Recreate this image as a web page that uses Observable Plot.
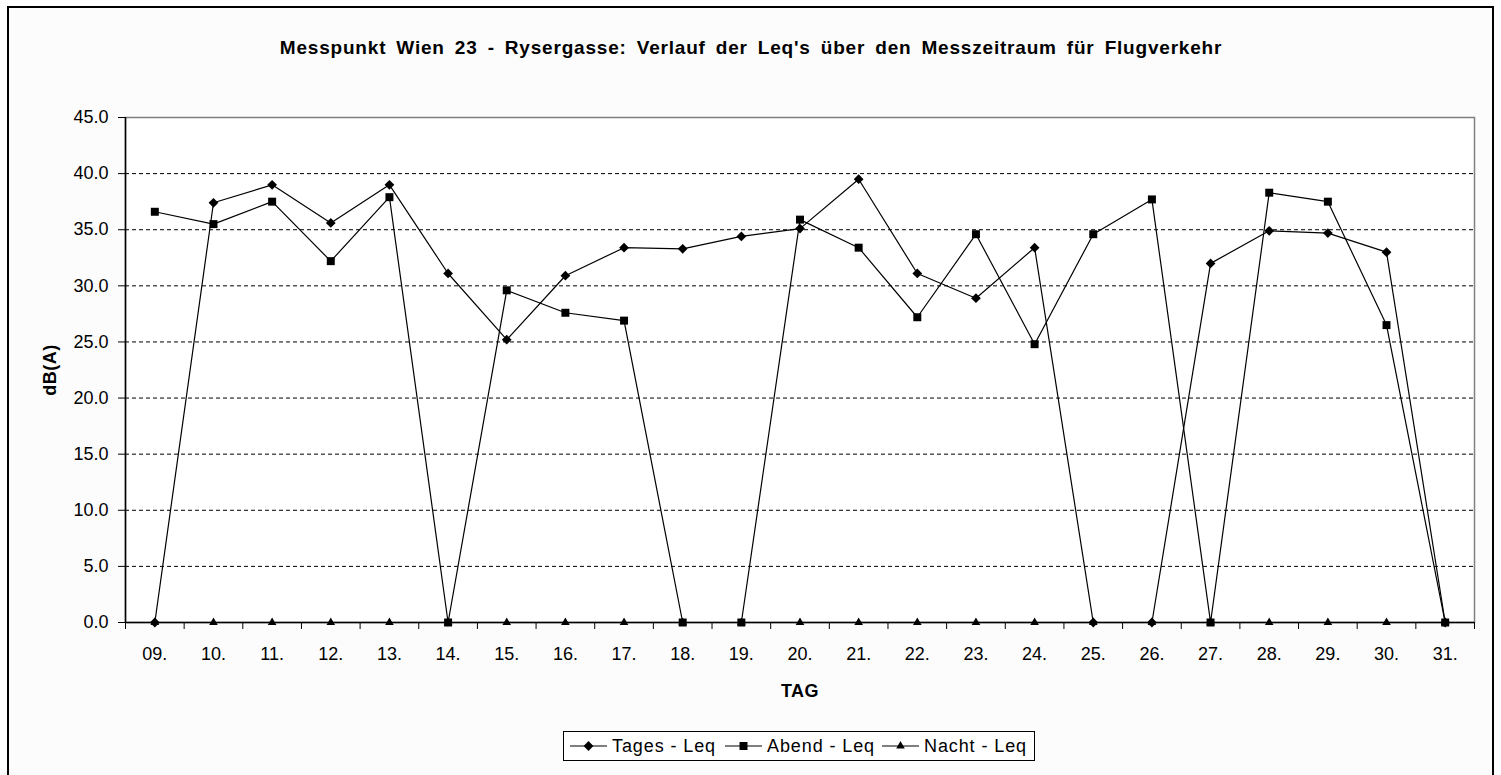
<!DOCTYPE html>
<html>
<head>
<meta charset="utf-8">
<script src="https://cdn.jsdelivr.net/npm/d3@7"></script>
<script src="https://cdn.jsdelivr.net/npm/@observablehq/plot@0.6"></script>
<style>
  body { margin: 0; background: #fff; font-family: Arial, "Liberation Sans", sans-serif; }
  #chart { position: relative; width: 1501px; height: 775px; overflow: hidden; background: #fff; }
  #outer { position: absolute; left: 7px; top: 6px; width: 1483px; height: 790px; border: 2px solid #000; background: #fcfcfc; }
  #title { position: absolute; left: 8px; top: 37px; width: 1486px; text-align: center; font-weight: bold; font-size: 19px; letter-spacing: 0.8px; word-spacing: 4px; color: #000; white-space: nowrap; }
  #plot { position: absolute; left: 0; top: 0; }
  #xlabel { position: absolute; left: 700px; width: 200px; top: 681px; text-align: center; font-weight: bold; font-size: 18px; letter-spacing: 0.5px; }
  #ylabel { position: absolute; left: 50px; top: 370px; transform: translate(-50%, -50%) rotate(-90deg); font-weight: bold; font-size: 18px; letter-spacing: 0.5px; white-space: nowrap; }
  #legend { position: absolute; left: 563px; top: 731px; width: 470px; height: 28px; border: 1px solid #000; background: #fff; font-size: 18px; letter-spacing: 0.9px; }
  .item { position: absolute; top: 0; height: 28px; display: flex; align-items: center; white-space: nowrap; }
  .item svg { margin-right: 5px; }
</style>
</head>
<body>
<div id="chart">
  <div id="outer"></div>
  <div id="title">Messpunkt Wien 23 - Rysergasse: Verlauf der Leq's über den Messzeitraum für Flugverkehr</div>
  <div id="plot"></div>
  <div id="xlabel">TAG</div>
  <div id="ylabel">dB(A)</div>
  <div id="legend"></div>
</div>
<script>
// ---- data ----
const categories = ["09.","10.","11.","12.","13.","14.","15.","16.","17.","18.","19.","20.","21.","22.","23.","24.","25.","26.","27.","28.","29.","30.","31."];
const tages = [0, 37.4, 39.0, 35.6, 39.0, 31.1, 25.2, 30.9, 33.4, 33.3, 34.4, 35.1, 39.5, 31.1, 28.9, 33.4, 0, 0, 32.0, 34.9, 34.7, 33.0, 0];
const abend = [36.6, 35.5, 37.5, 32.2, 37.9, 0, 29.6, 27.6, 26.9, 0, 0, 35.9, 33.4, 27.2, 34.6, 24.8, 34.6, 37.7, 0, 38.3, 37.5, 26.5, 0];
const nacht = [0, 0, 0, 0, 0, 0, 0, 0, 0, 0, 0, 0, 0, 0, 0, 0, 0, 0, 0, 0, 0, 0, 0];
const seriesNames = ["Tages - Leq", "Abend - Leq", "Nacht - Leq"];
const yTicks = [0, 5, 10, 15, 20, 25, 30, 35, 40, 45];

const toRows = (vals) => vals.map((v, i) => ({i, v}));
const T = toRows(tages), A = toRows(abend), N = toRows(nacht);
const idx = categories.map((_, i) => i);
const bounds = categories.map((_, i) => i - 0.5).concat([categories.length - 0.5]);

const chart = Plot.plot({
  width: 1501,
  height: 700,
  marginLeft: 125,
  marginRight: 27,
  marginTop: 117,
  marginBottom: 78,
  style: { fontFamily: "Arial, 'Liberation Sans', sans-serif", fontSize: "18px", color: "#000", background: "transparent", overflow: "visible" },
  x: { type: "linear", domain: [-0.5, categories.length - 0.5], axis: null },
  y: { domain: [0, 45], axis: null },
  marks: [
    Plot.frame({ fill: "#fff", stroke: "#808080", strokeWidth: 1.5 }),
    Plot.ruleY(yTicks.filter(d => d > 0 && d < 45), { stroke: "#000", strokeDasharray: "4,3", strokeWidth: 1 }),
    Plot.ruleY([0], { stroke: "#000", strokeWidth: 1.5 }),
    Plot.ruleX([-0.5], { stroke: "#000", strokeWidth: 1.5 }),
    Plot.axisY(yTicks, { tickSize: 7, tickPadding: 10, tickFormat: d3.format(".1f"), label: null, stroke: "#000" }),
    Plot.axisX(bounds, { tickSize: 7, tickFormat: () => "", label: null, stroke: "#000" }),
    Plot.axisX(idx, { tickSize: 0, tickPadding: 25, tickFormat: i => categories[i], label: null }),
    Plot.line(T, { x: "i", y: "v", stroke: "#000", strokeWidth: 1.2 }),
    Plot.dot(T, { x: "i", y: "v", symbol: "diamond2", r: 4.4, fill: "#000", stroke: "none" }),
    Plot.line(A, { x: "i", y: "v", stroke: "#000", strokeWidth: 1.2 }),
    Plot.dot(A, { x: "i", y: "v", symbol: "square", r: 4.5, fill: "#000", stroke: "none" }),
    Plot.line(N, { x: "i", y: "v", stroke: "#000", strokeWidth: 1.2 }),
    Plot.dot(N, { x: "i", y: "v", symbol: "triangle", r: 3.2, fill: "#000", stroke: "none" })
  ]
});
document.getElementById("plot").appendChild(chart);

// legend
const symbols = [d3.symbolDiamond2, d3.symbolSquare, d3.symbolTriangle];
const sizes = [Math.PI * 4.4 * 4.4, Math.PI * 4.5 * 4.5, Math.PI * 3.2 * 3.2];
const itemLeft = [6, 161, 318];
const legend = d3.select("#legend");
seriesNames.forEach((name, k) => {
  const it = legend.append("div").attr("class", "item").style("left", itemLeft[k] + "px");
  const s = it.append("svg").attr("width", 37).attr("height", 14);
  s.append("line").attr("x1", 0).attr("x2", 37).attr("y1", 7).attr("y2", 7).attr("stroke", "#000").attr("stroke-width", 1.2);
  s.append("path").attr("transform", "translate(18.5,7)").attr("d", d3.symbol(symbols[k], sizes[k])()).attr("fill", "#000");
  it.append("span").text(name);
});
</script>
</body>
</html>
